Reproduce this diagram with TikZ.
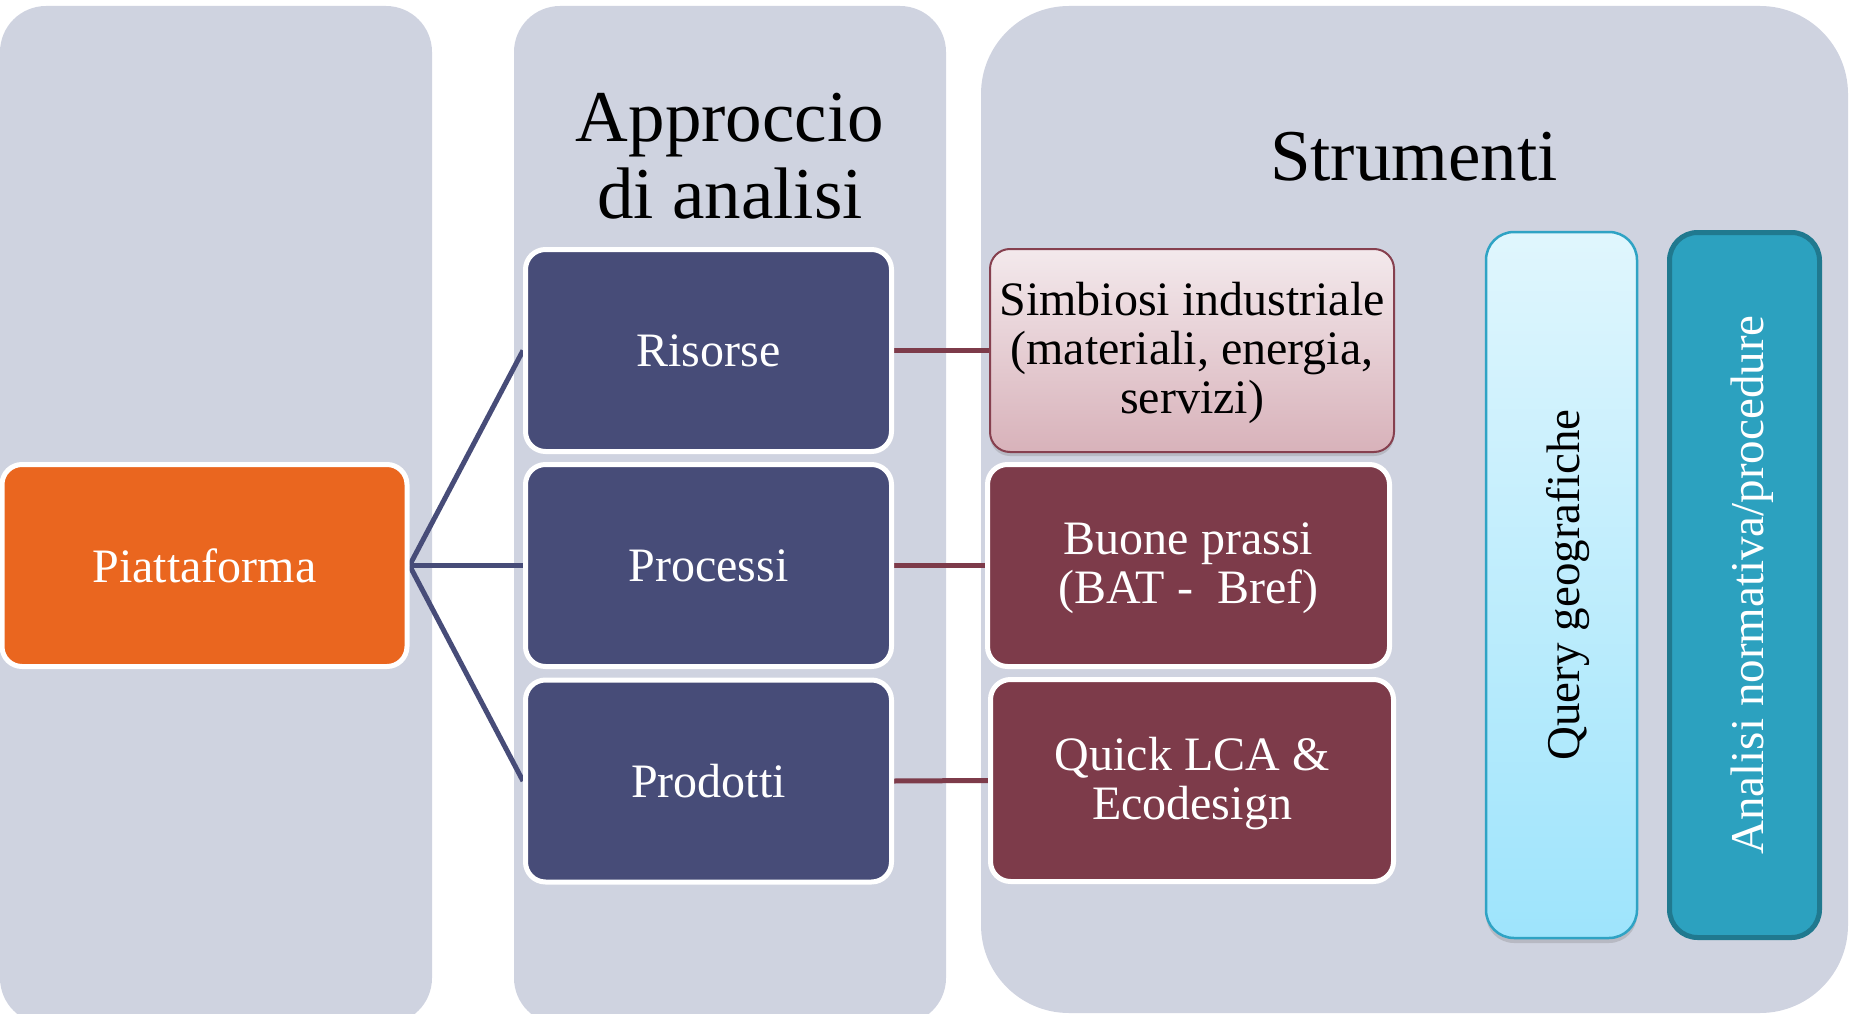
\documentclass[tikz,border=0pt]{standalone}
\usepackage{fontspec}
\setmainfont{Liberation Serif}
\usetikzlibrary{shadows}
\definecolor{colbg}{HTML}{CFD3E0}
\definecolor{orng}{HTML}{EA661F}
\definecolor{navy}{HTML}{474C78}
\definecolor{maroon}{HTML}{7D3B4A}
\definecolor{pinktop}{HTML}{F3E9EC}
\definecolor{pinkbot}{HTML}{D8B2BA}
\definecolor{pinkline}{HTML}{86404F}
\definecolor{qtop}{HTML}{E0F6FD}
\definecolor{qbot}{HTML}{9EE4FC}
\definecolor{qborder}{HTML}{2FA3C4}
\definecolor{tealfill}{HTML}{2CA1BF}
\definecolor{tealdark}{HTML}{20798F}
\pgfdeclarelayer{bg}
\pgfdeclarelayer{mid}
\pgfsetlayers{bg,mid,main}
\tikzset{
  column/.style={fill=colbg, draw=none},
  titletext/.style={font=\fontsize{73}{76}\selectfont, anchor=base, inner sep=0pt},
  boxtext/.style={font=\fontsize{48}{49}\selectfont, align=center},
  whitebox/.style={boxtext, rectangle, rounded corners=20pt, draw=white, line width=5pt, text=white, inner sep=0pt},
  platbox/.style={whitebox, fill=orng, minimum width=405pt, minimum height=202pt},
  navybox/.style={whitebox, fill=navy, minimum width=366pt, minimum height=202pt},
  maroonbox/.style={whitebox, fill=maroon, minimum width=402pt, minimum height=202pt},
  pinkbox/.style={boxtext, rectangle, rounded corners=20pt, draw=pinkline, line width=2pt, top color=pinktop, bottom color=pinkbot, text=black, inner sep=0pt, minimum width=404pt, minimum height=203pt, drop shadow={shadow xshift=0pt, shadow yshift=-4pt, opacity=0.3}},
  querybox/.style={rectangle, rounded corners=28pt, draw=qborder, line width=2.5pt, top color=qtop, bottom color=qbot, minimum width=151pt, minimum height=706pt, inner sep=0pt, drop shadow={shadow xshift=0pt, shadow yshift=-5pt, opacity=0.3}},
  analisibox/.style={rectangle, rounded corners=28pt, draw=tealdark, line width=5pt, fill=tealfill, minimum width=150pt, minimum height=705pt, inner sep=0pt},
  verttext/.style={font=\fontsize{47}{49}\selectfont, rotate=90, inner sep=0pt},
  navyline/.style={draw=navy, line width=5pt},
  maroonline/.style={draw=maroon, line width=5pt},
}
\begin{document}
\begin{tikzpicture}[x=1pt,y=-1pt]
\useasboundingbox (0,0) rectangle (1861,1014);
\clip (0,0) rectangle (1861,1014);
\begin{pgfonlayer}{bg}
  \fill[column, rounded corners=46pt] (0,6) rectangle (432,1024);
  \fill[column, rounded corners=46pt] (514,6) rectangle (946,1024);
  \fill[column, rounded corners=88pt] (981,6) rectangle (1848,1013);
\end{pgfonlayer}

\node[titletext] (appr1) at (730,142) {Approccio};
\node[titletext] (appr2) at (730,218) {di analisi};
\node[titletext] (strum) at (1414,180) {Strumenti};

\node[platbox] (plat) at (204.5,565.5) {Piattaforma};
\node[navybox] (ris) at (708.5,350.5) {Risorse};
\node[navybox] (proc) at (708.5,565.5) {Processi};
\node[navybox] (prod) at (708.5,781) {Prodotti};

\node[pinkbox] (simb) at (1192,350.5) {\rule{0pt}{38pt}Simbiosi industriale\\(materiali, energia,\\servizi)};
\node[maroonbox] (buone) at (1188.5,565.5) {\rule{0pt}{38pt}Buone prassi\\(BAT -~ Bref)};
\node[maroonbox, minimum width=403pt] (quick) at (1192,780.5) {\rule{0pt}{40pt}Quick LCA \&\\Ecodesign};

\node[querybox] (query) at (1561.5,585) {};
\node[verttext, text=black] (querytxt) at ([xshift=7pt]query.center) {Query geografiche};
\node[analisibox] (anal) at (1744.5,585) {};
\node[verttext, text=white] (analtxt) at ([xshift=8pt]anal.center) {Analisi normativa/procedure};

\begin{pgfonlayer}{mid}
  \draw[navyline] (plat.east) -- (ris.west);
  \draw[navyline] (plat.east) -- (proc.west);
  \draw[navyline] (plat.east) -- (prod.west);
  \draw[maroonline] (ris.east) -- (simb.west);
  \draw[maroonline] (proc.east) -- (buone.west);
  \draw[maroonline] (prod.east) -- (quick.west);
\end{pgfonlayer}
\end{tikzpicture}
\end{document}
